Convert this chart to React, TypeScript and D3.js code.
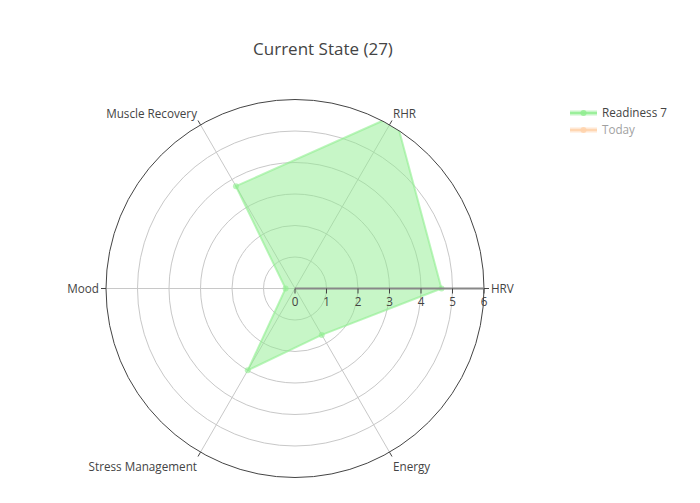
import React from "react";
import * as d3 from "d3";

const categories = ["HRV", "RHR", "Muscle Recovery", "Mood", "Stress Management", "Energy"];
const readiness = [4.65, 6.35, 3.75, 0.3, 3.0, 1.7];
const radialTicks = [0, 1, 2, 3, 4, 5, 6];
const legendItems = ["Readiness 7", "Today"];
const title = "Current State (27)";

const W = 700, H = 503;
const cx = 295, cy = 288.5, R = 189;

export default function App() {
  const r = d3.scaleLinear().domain([0, 6]).range([0, R]);
  const ang = d3.scaleLinear().domain([0, categories.length]).range([0, 2 * Math.PI]);
  const pt = (i: number, v: number): [number, number] => {
    const a = ang(i);
    return [cx + r(v) * Math.cos(a), cy - r(v) * Math.sin(a)];
  };
  const pts = readiness.map((v, i) => pt(i, v));
  const line = d3.line().curve(d3.curveLinearClosed);
  const font = "'Open Sans', verdana, arial, sans-serif";
  const fs = 11.7;
  const labelPos = (i: number) => {
    const a = ang(i);
    const c = Math.cos(a), s = Math.sin(a);
    const [x, y] = pt(i, 6);
    const anchor = Math.abs(c) < 0.01 ? "middle" : c > 0 ? "start" : "end";
    return { x: x + c * 7, y: y - s * 12 + 4 + (s < -0.01 ? 4 : 0), anchor };
  };
  return (
    <svg width={W} height={H} style={{ position: "absolute", left: 0, top: 0, fontFamily: font }}>
      <defs>
        <clipPath id="polarClip">
          <circle cx={cx} cy={cy} r={R} />
        </clipPath>
      </defs>
      <rect width={W} height={H} fill="#fff" />
      <text x={323} y={55} textAnchor="middle" fontSize={17} fill="#444">{title}</text>
      {radialTicks.slice(1, -1).map(t => (
        <circle key={t} cx={cx} cy={cy} r={r(t)} fill="none" stroke="#c8c8c8" strokeWidth={1} />
      ))}
      {categories.map((c, i) => {
        const [x, y] = pt(i, 6);
        return <line key={c} x1={cx} y1={cy} x2={x} y2={y} stroke="#c8c8c8" strokeWidth={1} />;
      })}
      <g clipPath="url(#polarClip)">
        <path d={line(pts) || ""} fill="rgba(144,238,144,0.5)" stroke="rgba(144,238,144,0.6)" strokeWidth={2} strokeLinejoin="round" />
        {pts.map((p, i) => (
          <circle key={i} cx={p[0]} cy={p[1]} r={3} fill="rgba(144,238,144,0.6)" />
        ))}
      </g>
      <circle cx={cx} cy={cy} r={R} fill="none" stroke="#444" strokeWidth={1} />
      {categories.map((c, i) => {
        const a = ang(i);
        const [x, y] = pt(i, 6);
        return <line key={c} x1={x} y1={y} x2={x + 5 * Math.cos(a)} y2={y - 5 * Math.sin(a)} stroke="#444" strokeWidth={1} />;
      })}
      <line x1={cx} y1={cy} x2={cx + R} y2={cy} stroke="#888" strokeWidth={2} />
      {radialTicks.map(t => (
        <g key={t}>
          <line x1={cx + r(t)} y1={cy} x2={cx + r(t)} y2={cy + 5} stroke="#444" strokeWidth={1} />
          <text x={cx + r(t)} y={cy + 17} textAnchor="middle" fontSize={fs} fill="#444">{t}</text>
        </g>
      ))}
      {categories.map((c, i) => {
        const p = labelPos(i);
        return (
          <text key={c} x={p.x} y={p.y} textAnchor={p.anchor as any} fontSize={fs} fill="#444">{c}</text>
        );
      })}
      {legendItems.map((name, i) => {
        const y = 113 + i * 17;
        const col = i === 0 ? "144,238,144" : "255,166,87";
        const op = i === 0 ? 1 : 0.5;
        return (
          <g key={name} opacity={op}>
            <rect x={570} y={y - 2.5} width={27} height={5} fill={`rgba(${col},0.5)`} />
            <line x1={570} y1={y} x2={597} y2={y} stroke={`rgba(${col},0.8)`} strokeWidth={2} />
            <circle cx={583.5} cy={y} r={3} fill={`rgba(${col},0.8)`} />
            <text x={602} y={y + 4} fontSize={fs} fill="#444">{name}</text>
          </g>
        );
      })}
    </svg>
  );
}
